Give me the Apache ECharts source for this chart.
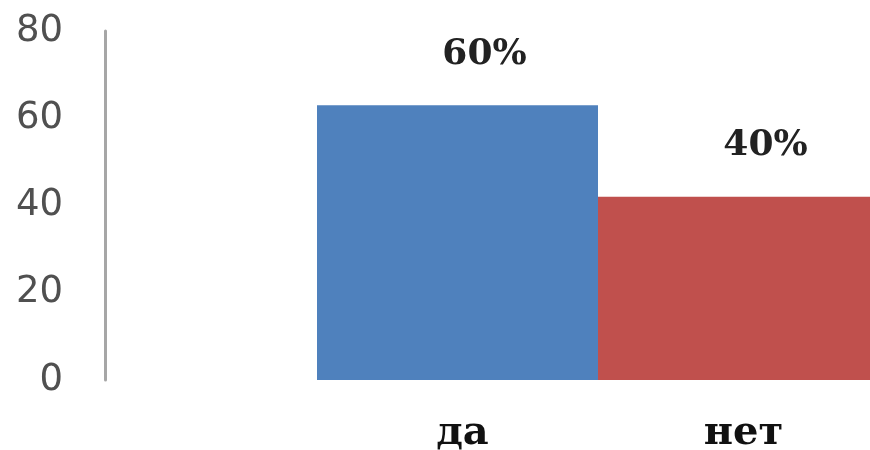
<!DOCTYPE html>
<html>
<head>
<meta charset="utf-8">
<script src="https://cdn.jsdelivr.net/npm/echarts@6/dist/echarts.min.js"></script>
<style>
  html, body { margin: 0; padding: 0; background: #ffffff; overflow: hidden; }
  #chart { width: 870px; height: 450px; }
</style>
</head>
<body>
<div id="chart"></div>
<script>
// Survey answers: number of responses per option
const categories = ['да', 'нет'];
const responses = [63, 42];
const barColors = ['#4f81bd', '#c0504d'];
const yTicks = [0, 20, 40, 60, 80];

const total = responses.reduce((a, b) => a + b, 0);
const share = v => Math.round(v / total * 100) + '%';

const chart = echarts.init(document.getElementById('chart'), null, { renderer: 'canvas' });

chart.setOption({
  animation: false,
  backgroundColor: '#ffffff',
  grid: {
    left: 317, width: 562, top: 31, bottom: 70,
    containLabel: false,
    outerBoundsMode: 'none'
  },
  xAxis: {
    type: 'category',
    data: categories,
    axisLine: { show: false },
    axisTick: { show: false },
    axisLabel: {
      margin: 34,
      padding: [0, 0, 0, 10],
      fontFamily: 'DejaVu Serif',
      fontWeight: 'bold',
      fontSize: 40,
      color: '#111111'
    }
  },
  yAxis: {
    type: 'value',
    min: yTicks[0],
    max: yTicks[yTicks.length - 1],
    interval: yTicks[1] - yTicks[0],
    offset: 212,
    splitLine: { show: false },
    axisTick: { show: false },
    axisLine: { show: true, lineStyle: { color: '#a6a6a6', width: 3 } },
    axisLabel: {
      margin: 42,
      fontFamily: 'DejaVu Sans',
      fontSize: 37,
      color: '#505050'
    }
  },
  series: [{
    type: 'bar',
    barWidth: '100%',
    data: responses.map((v, i) => ({ value: v, itemStyle: { color: barColors[i] } })),
    label: {
      show: true,
      position: 'top',
      distance: 33,
      offset: [27, 0],
      formatter: p => share(p.value),
      fontFamily: 'DejaVu Serif',
      fontWeight: 'bold',
      fontSize: 36,
      color: '#222222'
    }
  }]
});
</script>
</body>
</html>
